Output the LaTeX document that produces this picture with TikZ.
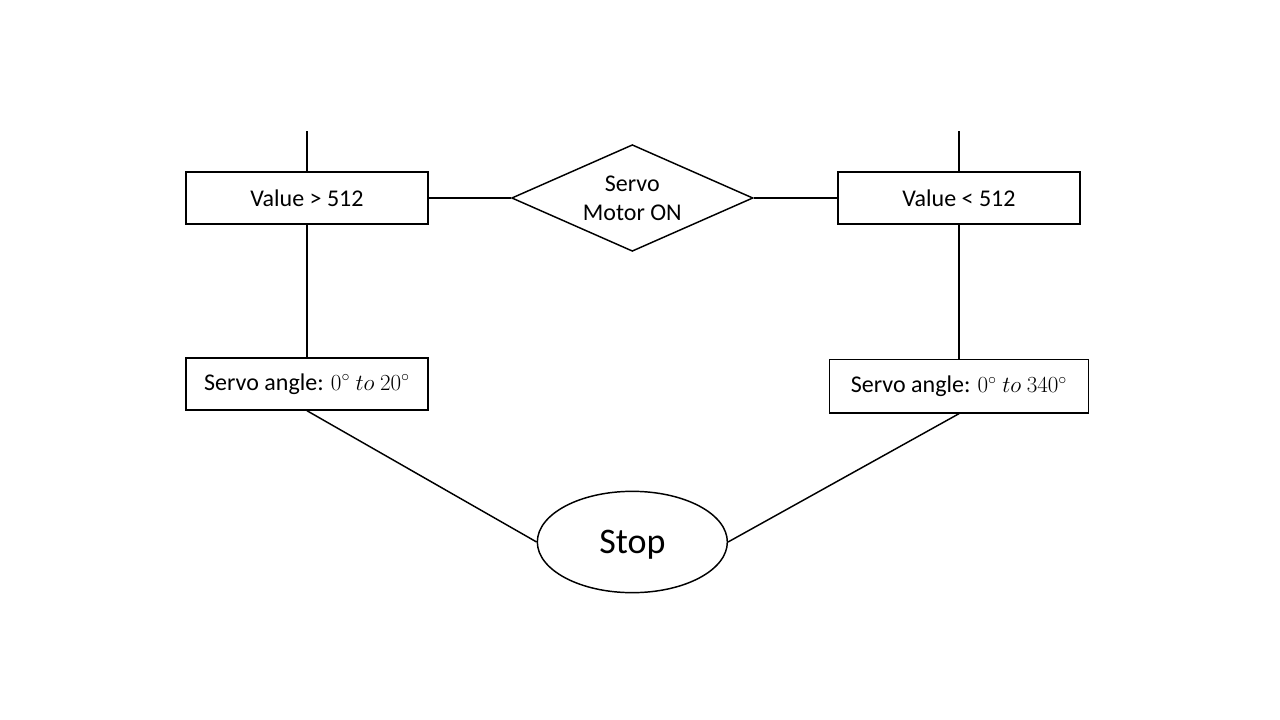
\documentclass[tikz,border=0pt]{standalone}
\usepackage[no-math]{fontspec}
\setmainfont{Carlito}
\usetikzlibrary{shapes,arrows,positioning}
\tikzset{
block/.style = {draw, fill=white, rectangle, align = center, minimum width=181.5pt, minimum height=39pt, inner sep=2pt, font=\fontsize{18}{21.6}\selectfont},
condition/.style = {draw, fill=white, diamond, align = center, minimum width=181pt, minimum height=80pt, inner sep=0pt, shape aspect=2.25, font=\fontsize{18}{21.6}\selectfont},
stopnode/.style = {draw, fill=white, ellipse, minimum width=142.5pt, minimum height=76pt, text depth=0pt, font=\fontsize{27}{32}\selectfont}
}
\begin{document}
\begin{tikzpicture}[auto, node distance=244pt, line width=1.1pt]
    \useasboundingbox (0,0) rectangle (960pt,-540pt);
    \node[block] (v1) at (230.25pt,-148.5pt) {Value > 512};
    \node[condition, right of = v1] (servo) {Servo\\Motor ON};
    \node[block, right of = servo, node distance=245pt] (v2) {Value < 512};
    \node[block, below of = v1, node distance=139.5pt] (a1) {Servo angle: $0^{\circ}\ to\ 20^{\circ}$};
    \node[block, below of = v2, node distance=141.2pt, minimum width=194pt, minimum height=40pt] (a2) {Servo angle: $0^{\circ}\ to\ 340^{\circ}$};
    \node[stopnode, below of = servo, node distance=258pt] (stop) {Stop};

    \coordinate[above of = v1, node distance=50pt] (t1);
    \coordinate[above of = v2, node distance=50pt] (t2);

    \draw (t1) -- (v1);
    \draw (t2) -- (v2);
    \draw (v1) -- (servo);
    \draw (servo) -- (v2);
    \draw (v1) -- (a1);
    \draw (v2) -- (a2);
    \draw (a1.south) -- (stop.west);
    \draw (a2.south) -- (stop.east);
\end{tikzpicture}
\end{document}
